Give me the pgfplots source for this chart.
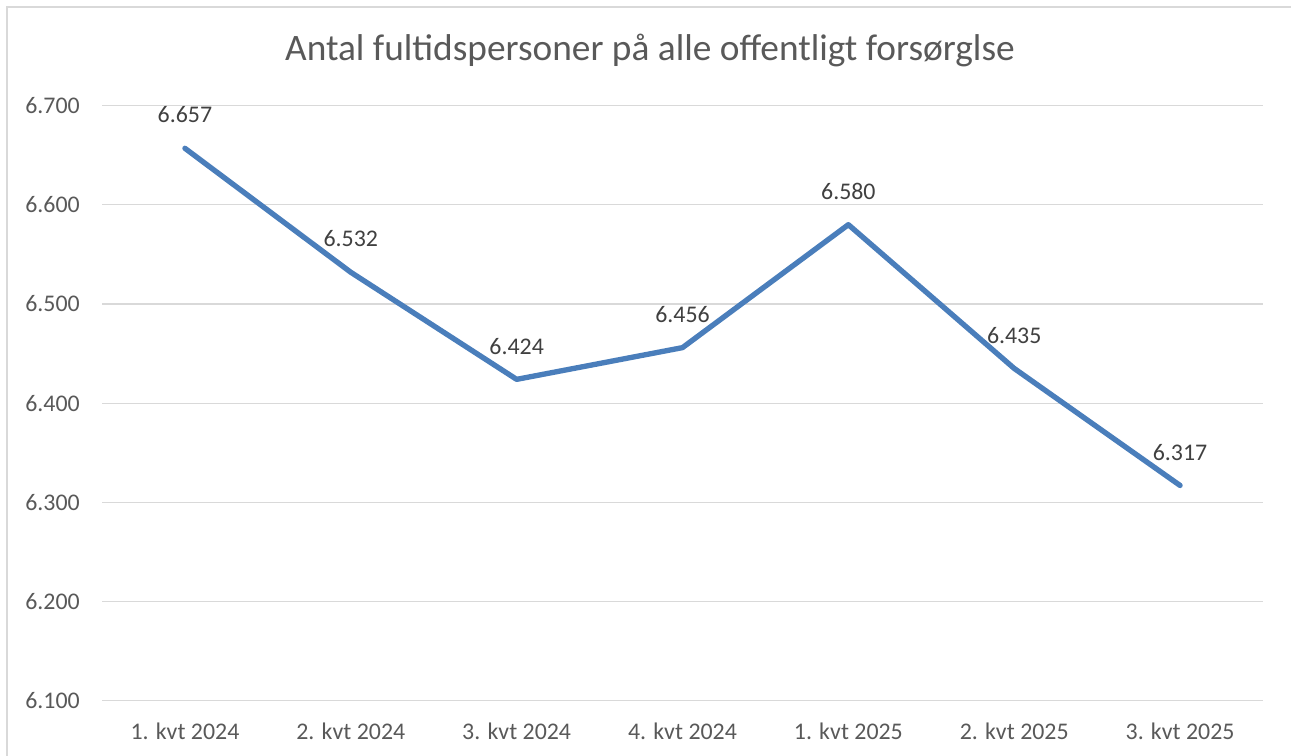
\documentclass[border=0pt]{standalone}
\usepackage{pgfplots}
\pgfplotsset{compat=1.18}
\usepackage{fontspec}
\setmainfont{Carlito}
\definecolor{lineblue}{HTML}{4A7EBB}
\definecolor{gridgray}{HTML}{D9D9D9}
\definecolor{txtgray}{HTML}{595959}
\definecolor{lblgray}{HTML}{404040}
\begin{document}
\begin{tikzpicture}
\useasboundingbox (0,0) rectangle (968.25pt,567pt);
\draw[gridgray, line width=0.9pt] (5.25pt,0) -- (5.25pt,561.75pt) -- (968.25pt,561.75pt);
\node[anchor=base, txtgray, inner sep=0pt, font=\fontsize{28}{32}\selectfont] at (487.5pt,521.25pt) {Antal fultidspersoner på alle offentligt forsørglse};
\begin{axis}[
  at={(76.5pt,41.5pt)}, anchor=south west,
  scale only axis, width=870.75pt, height=446.25pt,
  xmin=-0.5, xmax=6.5, ymin=6100, ymax=6700,
  xtick=data,
  xticklabels={1. kvt 2024, 2. kvt 2024, 3. kvt 2024, 4. kvt 2024, 1. kvt 2025, 2. kvt 2025, 3. kvt 2025},
  ytick={6100,6200,6300,6400,6500,6600,6700},
  scaled ticks=false,
  /pgf/number format/.cd, 1000 sep={.}, assume math mode=true, /pgfplots/.cd,
  axis line style={draw=none},
  tick style={draw=none},
  ymajorgrids, major grid style={gridgray, line width=0.9pt},
  yticklabel style={anchor=east, inner sep=0pt, xshift=-16.5pt, text=txtgray, font=\fontsize{17.9}{21}\selectfont},
  xticklabel style={anchor=north, inner sep=0pt, yshift=-16.7pt, text=txtgray, font=\fontsize{17.9}{21}\selectfont},
  clip=false,
  nodes near coords={\pgfmathprintnumber[fixed, precision=0, 1000 sep={.}, assume math mode=true]{\pgfplotspointmeta}},
  every node near coord/.append style={anchor=base, inner sep=0pt, yshift=19pt, text=lblgray, font=\fontsize{17.9}{21}\selectfont},
]
\addplot[lineblue, line width=4pt, line join=round, line cap=round, mark=none] coordinates {
  (0,6657) (1,6532) (2,6424) (3,6456) (4,6580) (5,6435) (6,6317)
};
\end{axis}
\end{tikzpicture}
\end{document}
